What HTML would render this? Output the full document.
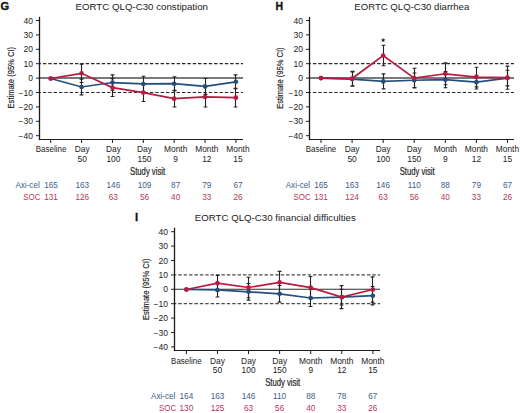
<!DOCTYPE html>
<html><head><meta charset="utf-8"><style>
html,body{margin:0;padding:0;background:#fff;}
svg{display:block;font-family:"Liberation Sans", sans-serif;}
</style></head><body>
<svg width="520" height="413" viewBox="0 0 520 413">
<rect width="520" height="413" fill="#fff"/>
<text x="0.4" y="9.8" font-size="11.2" font-weight="bold" fill="#111" stroke="#111" stroke-width="0.3">G</text>
<text x="141.75" y="9.8" font-size="9.6" fill="#222" text-anchor="middle" textLength="132.5" lengthAdjust="spacingAndGlyphs">EORTC QLQ-C30 constipation</text>
<text transform="translate(14.0,77.7) rotate(-90)" font-size="9.8" fill="#222" stroke="#222" stroke-width="0.15" text-anchor="middle" textLength="61.5" lengthAdjust="spacingAndGlyphs">Estimate (95% CI)</text>
<text x="33.0" y="138.75" font-size="8.5" fill="#222" text-anchor="end">−40</text>
<line x1="36.0" y1="135.70" x2="39.5" y2="135.70" stroke="#222" stroke-width="1"/>
<text x="33.0" y="124.35" font-size="8.5" fill="#222" text-anchor="end">−30</text>
<line x1="36.0" y1="121.30" x2="39.5" y2="121.30" stroke="#222" stroke-width="1"/>
<text x="33.0" y="109.95" font-size="8.5" fill="#222" text-anchor="end">−20</text>
<line x1="36.0" y1="106.90" x2="39.5" y2="106.90" stroke="#222" stroke-width="1"/>
<text x="33.0" y="95.55" font-size="8.5" fill="#222" text-anchor="end">−10</text>
<line x1="36.0" y1="92.50" x2="39.5" y2="92.50" stroke="#222" stroke-width="1"/>
<text x="33.0" y="81.15" font-size="8.5" fill="#222" text-anchor="end">0</text>
<line x1="36.0" y1="78.10" x2="39.5" y2="78.10" stroke="#222" stroke-width="1"/>
<text x="33.0" y="66.75" font-size="8.5" fill="#222" text-anchor="end">10</text>
<line x1="36.0" y1="63.70" x2="39.5" y2="63.70" stroke="#222" stroke-width="1"/>
<text x="33.0" y="52.35" font-size="8.5" fill="#222" text-anchor="end">20</text>
<line x1="36.0" y1="49.30" x2="39.5" y2="49.30" stroke="#222" stroke-width="1"/>
<text x="33.0" y="37.95" font-size="8.5" fill="#222" text-anchor="end">30</text>
<line x1="36.0" y1="34.90" x2="39.5" y2="34.90" stroke="#222" stroke-width="1"/>
<text x="33.0" y="23.55" font-size="8.5" fill="#222" text-anchor="end">40</text>
<line x1="36.0" y1="20.50" x2="39.5" y2="20.50" stroke="#222" stroke-width="1"/>
<line x1="39.5" y1="63.70" x2="243" y2="63.70" stroke="#2a2a2a" stroke-width="1.2" stroke-dasharray="3.4 1.95" stroke-dashoffset="1.95"/>
<line x1="39.5" y1="92.50" x2="243" y2="92.50" stroke="#2a2a2a" stroke-width="1.2" stroke-dasharray="3.4 1.95" stroke-dashoffset="1.95"/>
<line x1="39.5" y1="78.10" x2="243" y2="78.10" stroke="#4e4e4e" stroke-width="1.5"/>
<line x1="39.5" y1="16.8" x2="39.5" y2="140.1" stroke="#1a1a1a" stroke-width="1.3"/>
<line x1="38.85" y1="139.5" x2="243" y2="139.5" stroke="#1a1a1a" stroke-width="1.2"/>
<line x1="50.70" y1="139.5" x2="50.70" y2="143.0" stroke="#1a1a1a" stroke-width="1"/>
<text x="51.10" y="152.30" font-size="8.4" fill="#222" text-anchor="middle" textLength="30.6" lengthAdjust="spacingAndGlyphs">Baseline</text>
<line x1="81.57" y1="139.5" x2="81.57" y2="143.0" stroke="#1a1a1a" stroke-width="1"/>
<text x="82.24" y="152.30" font-size="8.4" fill="#222" text-anchor="middle">Day</text>
<text x="82.24" y="161.80" font-size="8.4" fill="#222" text-anchor="middle">50</text>
<line x1="112.44" y1="139.5" x2="112.44" y2="143.0" stroke="#1a1a1a" stroke-width="1"/>
<text x="113.38" y="152.30" font-size="8.4" fill="#222" text-anchor="middle">Day</text>
<text x="113.38" y="161.80" font-size="8.4" fill="#222" text-anchor="middle">100</text>
<line x1="143.31" y1="139.5" x2="143.31" y2="143.0" stroke="#1a1a1a" stroke-width="1"/>
<text x="144.52" y="152.30" font-size="8.4" fill="#222" text-anchor="middle">Day</text>
<text x="144.52" y="161.80" font-size="8.4" fill="#222" text-anchor="middle">150</text>
<line x1="174.18" y1="139.5" x2="174.18" y2="143.0" stroke="#1a1a1a" stroke-width="1"/>
<text x="175.66" y="152.30" font-size="8.4" fill="#222" text-anchor="middle">Month</text>
<text x="175.66" y="161.80" font-size="8.4" fill="#222" text-anchor="middle">9</text>
<line x1="205.05" y1="139.5" x2="205.05" y2="143.0" stroke="#1a1a1a" stroke-width="1"/>
<text x="206.80" y="152.30" font-size="8.4" fill="#222" text-anchor="middle">Month</text>
<text x="206.80" y="161.80" font-size="8.4" fill="#222" text-anchor="middle">12</text>
<line x1="235.92" y1="139.5" x2="235.92" y2="143.0" stroke="#1a1a1a" stroke-width="1"/>
<text x="237.94" y="152.30" font-size="8.4" fill="#222" text-anchor="middle">Month</text>
<text x="237.94" y="161.80" font-size="8.4" fill="#222" text-anchor="middle">15</text>
<text transform="translate(147.6,174.50) scale(0.77,1)" font-size="10" fill="#222" stroke="#222" stroke-width="0.2" text-anchor="middle">Study visit</text>
<text x="39.70" y="187.60" font-size="8.2" fill="#3a5e86" text-anchor="end" textLength="24.3" lengthAdjust="spacingAndGlyphs">Axi-cel</text>
<text x="40.50" y="199.90" font-size="8.2" fill="#b8365a" text-anchor="end" textLength="17.3" lengthAdjust="spacingAndGlyphs">SOC</text>
<text x="51.10" y="187.60" font-size="8.2" fill="#3a5e86" text-anchor="middle">165</text>
<text x="51.10" y="199.90" font-size="8.2" fill="#b8365a" text-anchor="middle">131</text>
<text x="82.24" y="187.60" font-size="8.2" fill="#3a5e86" text-anchor="middle">163</text>
<text x="82.24" y="199.90" font-size="8.2" fill="#b8365a" text-anchor="middle">126</text>
<text x="113.38" y="187.60" font-size="8.2" fill="#3a5e86" text-anchor="middle">146</text>
<text x="113.38" y="199.90" font-size="8.2" fill="#b8365a" text-anchor="middle">63</text>
<text x="144.52" y="187.60" font-size="8.2" fill="#3a5e86" text-anchor="middle">109</text>
<text x="144.52" y="199.90" font-size="8.2" fill="#b8365a" text-anchor="middle">56</text>
<text x="175.66" y="187.60" font-size="8.2" fill="#3a5e86" text-anchor="middle">87</text>
<text x="175.66" y="199.90" font-size="8.2" fill="#b8365a" text-anchor="middle">40</text>
<text x="206.80" y="187.60" font-size="8.2" fill="#3a5e86" text-anchor="middle">79</text>
<text x="206.80" y="199.90" font-size="8.2" fill="#b8365a" text-anchor="middle">33</text>
<text x="237.94" y="187.60" font-size="8.2" fill="#3a5e86" text-anchor="middle">67</text>
<text x="237.94" y="199.90" font-size="8.2" fill="#b8365a" text-anchor="middle">26</text>
<path d="M81.50 79.08V94.92M79.60 79.08H83.40M79.60 94.92H83.40" stroke="#222" stroke-width="1.1" fill="none"/>
<path d="M112.50 74.90V90.16M110.60 74.90H114.40M110.60 90.16H114.40" stroke="#222" stroke-width="1.1" fill="none"/>
<path d="M143.50 76.20V91.75M141.60 76.20H145.40M141.60 91.75H145.40" stroke="#222" stroke-width="1.1" fill="none"/>
<path d="M174.50 76.77V90.60M172.60 76.77H176.40M172.60 90.60H176.40" stroke="#222" stroke-width="1.1" fill="none"/>
<path d="M205.50 78.50V94.34M203.60 78.50H207.40M203.60 94.34H207.40" stroke="#222" stroke-width="1.1" fill="none"/>
<path d="M235.50 74.90V88.72M233.60 74.90H237.40M233.60 88.72H237.40" stroke="#222" stroke-width="1.1" fill="none"/>
<path d="M81.50 64.10V82.53M79.60 64.10H83.40M79.60 82.53H83.40" stroke="#222" stroke-width="1.1" fill="none"/>
<path d="M112.50 78.64V96.50M110.60 78.64H114.40M110.60 96.50H114.40" stroke="#222" stroke-width="1.1" fill="none"/>
<path d="M143.50 83.68V101.54M141.60 83.68H145.40M141.60 101.54H145.40" stroke="#222" stroke-width="1.1" fill="none"/>
<path d="M174.50 90.31V107.01M172.60 90.31H176.40M172.60 107.01H176.40" stroke="#222" stroke-width="1.1" fill="none"/>
<path d="M205.50 86.85V107.01M203.60 86.85H207.40M203.60 107.01H207.40" stroke="#222" stroke-width="1.1" fill="none"/>
<path d="M235.50 88.29V107.01M233.60 88.29H237.40M233.60 107.01H237.40" stroke="#222" stroke-width="1.1" fill="none"/>
<polyline points="50.70,78.50 81.57,87.00 112.44,82.53 143.31,83.97 174.18,83.68 205.05,86.42 235.92,81.81" fill="none" stroke="#254f7b" stroke-width="1.7"/>
<circle cx="50.70" cy="78.50" r="2.3" fill="#254f7b"/>
<circle cx="81.57" cy="87.00" r="2.3" fill="#254f7b"/>
<circle cx="112.44" cy="82.53" r="2.3" fill="#254f7b"/>
<circle cx="143.31" cy="83.97" r="2.3" fill="#254f7b"/>
<circle cx="174.18" cy="83.68" r="2.3" fill="#254f7b"/>
<circle cx="205.05" cy="86.42" r="2.3" fill="#254f7b"/>
<circle cx="235.92" cy="81.81" r="2.3" fill="#254f7b"/>
<polyline points="50.70,78.50 81.57,73.32 112.44,87.57 143.31,92.61 174.18,98.66 205.05,96.93 235.92,97.65" fill="none" stroke="#b81b3f" stroke-width="1.7"/>
<circle cx="50.70" cy="78.50" r="2.3" fill="#b81b3f"/>
<circle cx="81.57" cy="73.32" r="2.3" fill="#b81b3f"/>
<circle cx="112.44" cy="87.57" r="2.3" fill="#b81b3f"/>
<circle cx="143.31" cy="92.61" r="2.3" fill="#b81b3f"/>
<circle cx="174.18" cy="98.66" r="2.3" fill="#b81b3f"/>
<circle cx="205.05" cy="96.93" r="2.3" fill="#b81b3f"/>
<circle cx="235.92" cy="97.65" r="2.3" fill="#b81b3f"/>
<text x="275.5" y="9.8" font-size="10.5" font-weight="bold" fill="#111" stroke="#111" stroke-width="0.3">H</text>
<text x="411.8" y="9.8" font-size="9.6" fill="#222" text-anchor="middle">EORTC QLQ-C30 diarrhea</text>
<text transform="translate(283.0,78.1) rotate(-90)" font-size="9.8" fill="#222" stroke="#222" stroke-width="0.15" text-anchor="middle" textLength="61.5" lengthAdjust="spacingAndGlyphs">Estimate (95% CI)</text>
<text x="303.0" y="138.75" font-size="8.5" fill="#222" text-anchor="end">−40</text>
<line x1="306.0" y1="135.70" x2="309.5" y2="135.70" stroke="#222" stroke-width="1"/>
<text x="303.0" y="124.35" font-size="8.5" fill="#222" text-anchor="end">−30</text>
<line x1="306.0" y1="121.30" x2="309.5" y2="121.30" stroke="#222" stroke-width="1"/>
<text x="303.0" y="109.95" font-size="8.5" fill="#222" text-anchor="end">−20</text>
<line x1="306.0" y1="106.90" x2="309.5" y2="106.90" stroke="#222" stroke-width="1"/>
<text x="303.0" y="95.55" font-size="8.5" fill="#222" text-anchor="end">−10</text>
<line x1="306.0" y1="92.50" x2="309.5" y2="92.50" stroke="#222" stroke-width="1"/>
<text x="303.0" y="81.15" font-size="8.5" fill="#222" text-anchor="end">0</text>
<line x1="306.0" y1="78.10" x2="309.5" y2="78.10" stroke="#222" stroke-width="1"/>
<text x="303.0" y="66.75" font-size="8.5" fill="#222" text-anchor="end">10</text>
<line x1="306.0" y1="63.70" x2="309.5" y2="63.70" stroke="#222" stroke-width="1"/>
<text x="303.0" y="52.35" font-size="8.5" fill="#222" text-anchor="end">20</text>
<line x1="306.0" y1="49.30" x2="309.5" y2="49.30" stroke="#222" stroke-width="1"/>
<text x="303.0" y="37.95" font-size="8.5" fill="#222" text-anchor="end">30</text>
<line x1="306.0" y1="34.90" x2="309.5" y2="34.90" stroke="#222" stroke-width="1"/>
<text x="303.0" y="23.55" font-size="8.5" fill="#222" text-anchor="end">40</text>
<line x1="306.0" y1="20.50" x2="309.5" y2="20.50" stroke="#222" stroke-width="1"/>
<line x1="309.5" y1="63.70" x2="514" y2="63.70" stroke="#2a2a2a" stroke-width="1.2" stroke-dasharray="3.4 1.95" stroke-dashoffset="1.95"/>
<line x1="309.5" y1="92.50" x2="514" y2="92.50" stroke="#2a2a2a" stroke-width="1.2" stroke-dasharray="3.4 1.95" stroke-dashoffset="1.95"/>
<line x1="309.5" y1="78.10" x2="514" y2="78.10" stroke="#4e4e4e" stroke-width="1.5"/>
<line x1="309.5" y1="16.8" x2="309.5" y2="140.1" stroke="#1a1a1a" stroke-width="1.3"/>
<line x1="308.85" y1="139.5" x2="514" y2="139.5" stroke="#1a1a1a" stroke-width="1.2"/>
<line x1="321.00" y1="139.5" x2="321.00" y2="143.0" stroke="#1a1a1a" stroke-width="1"/>
<text x="321.00" y="152.30" font-size="8.4" fill="#222" text-anchor="middle" textLength="30.6" lengthAdjust="spacingAndGlyphs">Baseline</text>
<line x1="352.08" y1="139.5" x2="352.08" y2="143.0" stroke="#1a1a1a" stroke-width="1"/>
<text x="352.08" y="152.30" font-size="8.4" fill="#222" text-anchor="middle">Day</text>
<text x="352.08" y="161.80" font-size="8.4" fill="#222" text-anchor="middle">50</text>
<line x1="383.16" y1="139.5" x2="383.16" y2="143.0" stroke="#1a1a1a" stroke-width="1"/>
<text x="383.16" y="152.30" font-size="8.4" fill="#222" text-anchor="middle">Day</text>
<text x="383.16" y="161.80" font-size="8.4" fill="#222" text-anchor="middle">100</text>
<line x1="414.24" y1="139.5" x2="414.24" y2="143.0" stroke="#1a1a1a" stroke-width="1"/>
<text x="414.24" y="152.30" font-size="8.4" fill="#222" text-anchor="middle">Day</text>
<text x="414.24" y="161.80" font-size="8.4" fill="#222" text-anchor="middle">150</text>
<line x1="445.32" y1="139.5" x2="445.32" y2="143.0" stroke="#1a1a1a" stroke-width="1"/>
<text x="445.32" y="152.30" font-size="8.4" fill="#222" text-anchor="middle">Month</text>
<text x="445.32" y="161.80" font-size="8.4" fill="#222" text-anchor="middle">9</text>
<line x1="476.40" y1="139.5" x2="476.40" y2="143.0" stroke="#1a1a1a" stroke-width="1"/>
<text x="476.40" y="152.30" font-size="8.4" fill="#222" text-anchor="middle">Month</text>
<text x="476.40" y="161.80" font-size="8.4" fill="#222" text-anchor="middle">12</text>
<line x1="507.48" y1="139.5" x2="507.48" y2="143.0" stroke="#1a1a1a" stroke-width="1"/>
<text x="507.48" y="152.30" font-size="8.4" fill="#222" text-anchor="middle">Month</text>
<text x="507.48" y="161.80" font-size="8.4" fill="#222" text-anchor="middle">15</text>
<text transform="translate(417.2,174.50) scale(0.77,1)" font-size="10" fill="#222" stroke="#222" stroke-width="0.2" text-anchor="middle">Study visit</text>
<text x="310.00" y="187.60" font-size="8.2" fill="#3a5e86" text-anchor="end" textLength="24.3" lengthAdjust="spacingAndGlyphs">Axi-cel</text>
<text x="310.80" y="199.90" font-size="8.2" fill="#b8365a" text-anchor="end" textLength="17.3" lengthAdjust="spacingAndGlyphs">SOC</text>
<text x="321.00" y="187.60" font-size="8.2" fill="#3a5e86" text-anchor="middle">165</text>
<text x="321.00" y="199.90" font-size="8.2" fill="#b8365a" text-anchor="middle">131</text>
<text x="352.08" y="187.60" font-size="8.2" fill="#3a5e86" text-anchor="middle">163</text>
<text x="352.08" y="199.90" font-size="8.2" fill="#b8365a" text-anchor="middle">124</text>
<text x="383.16" y="187.60" font-size="8.2" fill="#3a5e86" text-anchor="middle">146</text>
<text x="383.16" y="199.90" font-size="8.2" fill="#b8365a" text-anchor="middle">63</text>
<text x="414.24" y="187.60" font-size="8.2" fill="#3a5e86" text-anchor="middle">110</text>
<text x="414.24" y="199.90" font-size="8.2" fill="#b8365a" text-anchor="middle">56</text>
<text x="445.32" y="187.60" font-size="8.2" fill="#3a5e86" text-anchor="middle">88</text>
<text x="445.32" y="199.90" font-size="8.2" fill="#b8365a" text-anchor="middle">40</text>
<text x="476.40" y="187.60" font-size="8.2" fill="#3a5e86" text-anchor="middle">79</text>
<text x="476.40" y="199.90" font-size="8.2" fill="#b8365a" text-anchor="middle">33</text>
<text x="507.48" y="187.60" font-size="8.2" fill="#3a5e86" text-anchor="middle">67</text>
<text x="507.48" y="199.90" font-size="8.2" fill="#b8365a" text-anchor="middle">26</text>
<path d="M352.50 71.91V86.31M350.60 71.91H354.40M350.60 86.31H354.40" stroke="#222" stroke-width="1.1" fill="none"/>
<path d="M383.50 73.92V88.90M381.60 73.92H385.40M381.60 88.90H385.40" stroke="#222" stroke-width="1.1" fill="none"/>
<path d="M414.50 73.06V87.46M412.60 73.06H416.40M412.60 87.46H416.40" stroke="#222" stroke-width="1.1" fill="none"/>
<path d="M445.50 71.62V87.75M443.60 71.62H447.40M443.60 87.75H447.40" stroke="#222" stroke-width="1.1" fill="none"/>
<path d="M476.50 75.22V89.04M474.60 75.22H478.40M474.60 89.04H478.40" stroke="#222" stroke-width="1.1" fill="none"/>
<path d="M507.50 70.32V85.88M505.60 70.32H509.40M505.60 85.88H509.40" stroke="#222" stroke-width="1.1" fill="none"/>
<path d="M352.50 71.33V85.73M350.60 71.33H354.40M350.60 85.73H354.40" stroke="#222" stroke-width="1.1" fill="none"/>
<path d="M383.50 45.27V65.72M381.60 45.27H385.40M381.60 65.72H385.40" stroke="#222" stroke-width="1.1" fill="none"/>
<path d="M414.50 68.31V87.89M412.60 68.31H416.40M412.60 87.89H416.40" stroke="#222" stroke-width="1.1" fill="none"/>
<path d="M445.50 62.84V84.72M443.60 62.84H447.40M443.60 84.72H447.40" stroke="#222" stroke-width="1.1" fill="none"/>
<path d="M476.50 67.30V86.88M474.60 67.30H478.40M474.60 86.88H478.40" stroke="#222" stroke-width="1.1" fill="none"/>
<path d="M507.50 66.15V89.19M505.60 66.15H509.40M505.60 89.19H509.40" stroke="#222" stroke-width="1.1" fill="none"/>
<polyline points="321.00,78.10 352.08,79.11 383.16,81.41 414.24,80.26 445.32,79.68 476.40,82.13 507.48,78.10" fill="none" stroke="#254f7b" stroke-width="1.7"/>
<circle cx="321.00" cy="78.10" r="2.3" fill="#254f7b"/>
<circle cx="352.08" cy="79.11" r="2.3" fill="#254f7b"/>
<circle cx="383.16" cy="81.41" r="2.3" fill="#254f7b"/>
<circle cx="414.24" cy="80.26" r="2.3" fill="#254f7b"/>
<circle cx="445.32" cy="79.68" r="2.3" fill="#254f7b"/>
<circle cx="476.40" cy="82.13" r="2.3" fill="#254f7b"/>
<circle cx="507.48" cy="78.10" r="2.3" fill="#254f7b"/>
<polyline points="321.00,78.10 352.08,78.53 383.16,55.49 414.24,78.10 445.32,73.78 476.40,77.09 507.48,77.67" fill="none" stroke="#b81b3f" stroke-width="1.7"/>
<circle cx="321.00" cy="78.10" r="2.3" fill="#b81b3f"/>
<circle cx="352.08" cy="78.53" r="2.3" fill="#b81b3f"/>
<circle cx="383.16" cy="55.49" r="2.3" fill="#b81b3f"/>
<circle cx="414.24" cy="78.10" r="2.3" fill="#b81b3f"/>
<circle cx="445.32" cy="73.78" r="2.3" fill="#b81b3f"/>
<circle cx="476.40" cy="77.09" r="2.3" fill="#b81b3f"/>
<circle cx="507.48" cy="77.67" r="2.3" fill="#b81b3f"/>
<path d="M383.16 38.40V42.00M381.59 39.30L384.73 41.10M381.59 41.10L384.73 39.30" stroke="#111" stroke-width="0.9" fill="none"/>
<text x="134.9" y="221.2" font-size="11.3" font-weight="bold" fill="#111" stroke="#111" stroke-width="0.3">I</text>
<text x="275.3" y="221.2" font-size="9.6" fill="#222" text-anchor="middle" textLength="161" lengthAdjust="spacingAndGlyphs">EORTC QLQ-C30 financial difficulties</text>
<text transform="translate(148.5,289.3) rotate(-90)" font-size="9.8" fill="#222" stroke="#222" stroke-width="0.15" text-anchor="middle" textLength="61.5" lengthAdjust="spacingAndGlyphs">Estimate (95% CI)</text>
<text x="168.0" y="349.95" font-size="8.5" fill="#222" text-anchor="end">−40</text>
<line x1="171.0" y1="346.90" x2="174.5" y2="346.90" stroke="#222" stroke-width="1"/>
<text x="168.0" y="335.55" font-size="8.5" fill="#222" text-anchor="end">−30</text>
<line x1="171.0" y1="332.50" x2="174.5" y2="332.50" stroke="#222" stroke-width="1"/>
<text x="168.0" y="321.15" font-size="8.5" fill="#222" text-anchor="end">−20</text>
<line x1="171.0" y1="318.10" x2="174.5" y2="318.10" stroke="#222" stroke-width="1"/>
<text x="168.0" y="306.75" font-size="8.5" fill="#222" text-anchor="end">−10</text>
<line x1="171.0" y1="303.70" x2="174.5" y2="303.70" stroke="#222" stroke-width="1"/>
<text x="168.0" y="292.35" font-size="8.5" fill="#222" text-anchor="end">0</text>
<line x1="171.0" y1="289.30" x2="174.5" y2="289.30" stroke="#222" stroke-width="1"/>
<text x="168.0" y="277.95" font-size="8.5" fill="#222" text-anchor="end">10</text>
<line x1="171.0" y1="274.90" x2="174.5" y2="274.90" stroke="#222" stroke-width="1"/>
<text x="168.0" y="263.55" font-size="8.5" fill="#222" text-anchor="end">20</text>
<line x1="171.0" y1="260.50" x2="174.5" y2="260.50" stroke="#222" stroke-width="1"/>
<text x="168.0" y="249.15" font-size="8.5" fill="#222" text-anchor="end">30</text>
<line x1="171.0" y1="246.10" x2="174.5" y2="246.10" stroke="#222" stroke-width="1"/>
<text x="168.0" y="234.75" font-size="8.5" fill="#222" text-anchor="end">40</text>
<line x1="171.0" y1="231.70" x2="174.5" y2="231.70" stroke="#222" stroke-width="1"/>
<line x1="174.5" y1="274.90" x2="380" y2="274.90" stroke="#4a4a4a" stroke-width="1.3" stroke-dasharray="3.42 1.97" stroke-dashoffset="1.6"/>
<line x1="174.5" y1="303.70" x2="380" y2="303.70" stroke="#4a4a4a" stroke-width="1.3" stroke-dasharray="3.42 1.97" stroke-dashoffset="1.6"/>
<line x1="174.5" y1="289.30" x2="380" y2="289.30" stroke="#2e2e2e" stroke-width="1.1"/>
<line x1="174.5" y1="227.7" x2="174.5" y2="351.1" stroke="#1a1a1a" stroke-width="1.3"/>
<line x1="173.85" y1="350.5" x2="380" y2="350.5" stroke="#1a1a1a" stroke-width="1.2"/>
<line x1="186.40" y1="350.5" x2="186.40" y2="354.0" stroke="#1a1a1a" stroke-width="1"/>
<text x="186.40" y="363.50" font-size="8.4" fill="#222" text-anchor="middle" textLength="30.6" lengthAdjust="spacingAndGlyphs">Baseline</text>
<line x1="217.48" y1="350.5" x2="217.48" y2="354.0" stroke="#1a1a1a" stroke-width="1"/>
<text x="217.48" y="363.50" font-size="8.4" fill="#222" text-anchor="middle">Day</text>
<text x="217.48" y="373.00" font-size="8.4" fill="#222" text-anchor="middle">50</text>
<line x1="248.56" y1="350.5" x2="248.56" y2="354.0" stroke="#1a1a1a" stroke-width="1"/>
<text x="248.56" y="363.50" font-size="8.4" fill="#222" text-anchor="middle">Day</text>
<text x="248.56" y="373.00" font-size="8.4" fill="#222" text-anchor="middle">100</text>
<line x1="279.64" y1="350.5" x2="279.64" y2="354.0" stroke="#1a1a1a" stroke-width="1"/>
<text x="279.64" y="363.50" font-size="8.4" fill="#222" text-anchor="middle">Day</text>
<text x="279.64" y="373.00" font-size="8.4" fill="#222" text-anchor="middle">150</text>
<line x1="310.72" y1="350.5" x2="310.72" y2="354.0" stroke="#1a1a1a" stroke-width="1"/>
<text x="310.72" y="363.50" font-size="8.4" fill="#222" text-anchor="middle">Month</text>
<text x="310.72" y="373.00" font-size="8.4" fill="#222" text-anchor="middle">9</text>
<line x1="341.80" y1="350.5" x2="341.80" y2="354.0" stroke="#1a1a1a" stroke-width="1"/>
<text x="341.80" y="363.50" font-size="8.4" fill="#222" text-anchor="middle">Month</text>
<text x="341.80" y="373.00" font-size="8.4" fill="#222" text-anchor="middle">12</text>
<line x1="372.88" y1="350.5" x2="372.88" y2="354.0" stroke="#1a1a1a" stroke-width="1"/>
<text x="372.88" y="363.50" font-size="8.4" fill="#222" text-anchor="middle">Month</text>
<text x="372.88" y="373.00" font-size="8.4" fill="#222" text-anchor="middle">15</text>
<text transform="translate(282.7,385.70) scale(0.77,1)" font-size="10" fill="#222" stroke="#222" stroke-width="0.2" text-anchor="middle">Study visit</text>
<text x="175.40" y="398.80" font-size="8.2" fill="#3a5e86" text-anchor="end" textLength="24.3" lengthAdjust="spacingAndGlyphs">Axi-cel</text>
<text x="176.20" y="411.10" font-size="8.2" fill="#b8365a" text-anchor="end" textLength="17.3" lengthAdjust="spacingAndGlyphs">SOC</text>
<text x="186.40" y="398.80" font-size="8.2" fill="#3a5e86" text-anchor="middle">164</text>
<text x="186.40" y="411.10" font-size="8.2" fill="#b8365a" text-anchor="middle">130</text>
<text x="217.48" y="398.80" font-size="8.2" fill="#3a5e86" text-anchor="middle">163</text>
<text x="217.48" y="411.10" font-size="8.2" fill="#b8365a" text-anchor="middle">125</text>
<text x="248.56" y="398.80" font-size="8.2" fill="#3a5e86" text-anchor="middle">146</text>
<text x="248.56" y="411.10" font-size="8.2" fill="#b8365a" text-anchor="middle">63</text>
<text x="279.64" y="398.80" font-size="8.2" fill="#3a5e86" text-anchor="middle">110</text>
<text x="279.64" y="411.10" font-size="8.2" fill="#b8365a" text-anchor="middle">56</text>
<text x="310.72" y="398.80" font-size="8.2" fill="#3a5e86" text-anchor="middle">88</text>
<text x="310.72" y="411.10" font-size="8.2" fill="#b8365a" text-anchor="middle">40</text>
<text x="341.80" y="398.80" font-size="8.2" fill="#3a5e86" text-anchor="middle">78</text>
<text x="341.80" y="411.10" font-size="8.2" fill="#b8365a" text-anchor="middle">33</text>
<text x="372.88" y="398.80" font-size="8.2" fill="#3a5e86" text-anchor="middle">67</text>
<text x="372.88" y="411.10" font-size="8.2" fill="#b8365a" text-anchor="middle">26</text>
<path d="M217.50 282.88V296.99M215.60 282.88H219.40M215.60 296.99H219.40" stroke="#222" stroke-width="1.1" fill="none"/>
<path d="M248.50 283.45V300.16M246.60 283.45H250.40M246.60 300.16H250.40" stroke="#222" stroke-width="1.1" fill="none"/>
<path d="M279.50 285.47V302.17M277.60 285.47H281.40M277.60 302.17H281.40" stroke="#222" stroke-width="1.1" fill="none"/>
<path d="M310.50 289.50V306.49M308.60 289.50H312.40M308.60 306.49H312.40" stroke="#222" stroke-width="1.1" fill="none"/>
<path d="M341.50 289.21V305.05M339.60 289.21H343.40M339.60 305.05H343.40" stroke="#222" stroke-width="1.1" fill="none"/>
<path d="M372.50 286.48V304.91M370.60 286.48H374.40M370.60 304.91H374.40" stroke="#222" stroke-width="1.1" fill="none"/>
<path d="M217.50 275.39V290.94M215.60 275.39H219.40M215.60 290.94H219.40" stroke="#222" stroke-width="1.1" fill="none"/>
<path d="M248.50 277.26V297.71M246.60 277.26H250.40M246.60 297.71H250.40" stroke="#222" stroke-width="1.1" fill="none"/>
<path d="M279.50 271.36V293.24M277.60 271.36H281.40M277.60 293.24H281.40" stroke="#222" stroke-width="1.1" fill="none"/>
<path d="M310.50 276.54V298.72M308.60 276.54H312.40M308.60 298.72H312.40" stroke="#222" stroke-width="1.1" fill="none"/>
<path d="M341.50 285.61V308.65M339.60 285.61H343.40M339.60 308.65H343.40" stroke="#222" stroke-width="1.1" fill="none"/>
<path d="M372.50 276.83V302.17M370.60 276.83H374.40M370.60 302.17H374.40" stroke="#222" stroke-width="1.1" fill="none"/>
<polyline points="186.40,289.50 217.48,289.93 248.56,291.80 279.64,293.82 310.72,298.00 341.80,297.13 372.88,295.69" fill="none" stroke="#254f7b" stroke-width="1.7"/>
<circle cx="186.40" cy="289.50" r="2.3" fill="#254f7b"/>
<circle cx="217.48" cy="289.93" r="2.3" fill="#254f7b"/>
<circle cx="248.56" cy="291.80" r="2.3" fill="#254f7b"/>
<circle cx="279.64" cy="293.82" r="2.3" fill="#254f7b"/>
<circle cx="310.72" cy="298.00" r="2.3" fill="#254f7b"/>
<circle cx="341.80" cy="297.13" r="2.3" fill="#254f7b"/>
<circle cx="372.88" cy="295.69" r="2.3" fill="#254f7b"/>
<polyline points="186.40,289.50 217.48,283.16 248.56,287.48 279.64,282.30 310.72,287.63 341.80,297.13 372.88,289.50" fill="none" stroke="#b81b3f" stroke-width="1.7"/>
<circle cx="186.40" cy="289.50" r="2.3" fill="#b81b3f"/>
<circle cx="217.48" cy="283.16" r="2.3" fill="#b81b3f"/>
<circle cx="248.56" cy="287.48" r="2.3" fill="#b81b3f"/>
<circle cx="279.64" cy="282.30" r="2.3" fill="#b81b3f"/>
<circle cx="310.72" cy="287.63" r="2.3" fill="#b81b3f"/>
<circle cx="341.80" cy="297.13" r="2.3" fill="#b81b3f"/>
<circle cx="372.88" cy="289.50" r="2.3" fill="#b81b3f"/>
</svg></body></html>
